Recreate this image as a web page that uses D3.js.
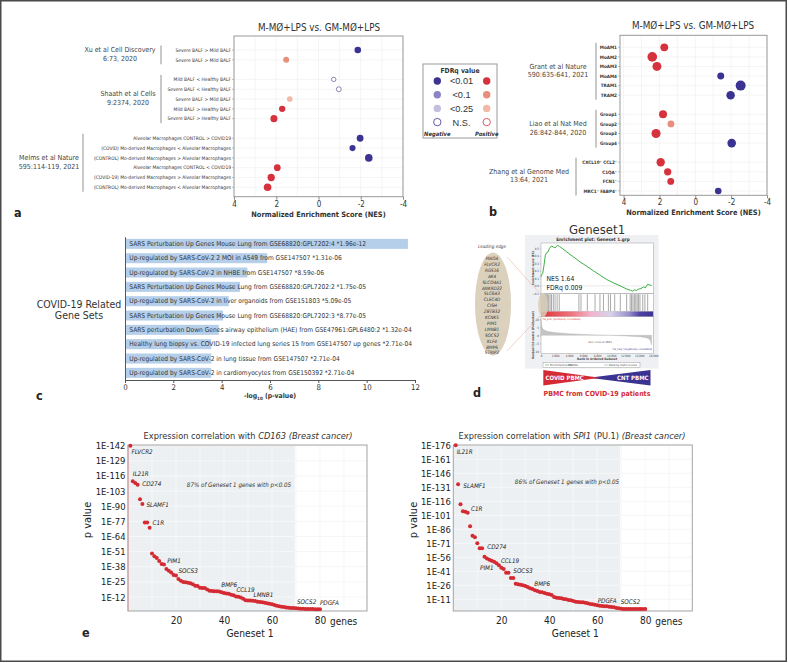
<!DOCTYPE html>
<html>
<head>
<meta charset="utf-8">
<title>COVID-19 macrophage gene sets</title>
<script src="https://cdn.jsdelivr.net/npm/d3@7"></script>
<style>
  body { margin: 0; background: #fff; }
  svg text { font-family: "DejaVu Sans Condensed", "Liberation Sans Narrow", "DejaVu Sans", sans-serif; font-stretch: condensed; }
</style>
</head>
<body>
<div id="fig"></div>
<script>
// ---------- data ----------

// a: GSEA of published COVID-19 signatures on M-MØ+LPS vs GM-MØ+LPS ("" = gap row)
var aRows = ["Severe BALF > Mild BALF", "Severe BALF > Mild BALF", "",
  "Mild BALF < Healthy BALF", "Severe BALF < Healthy BALF", "Severe BALF > Mild BALF",
  "Mild BALF > Healthy BALF", "Severe BALF > Healthy BALF", "",
  "Alveolar Macrophages CONTROL > COVID19", "(COVID) Mo-derived Macrophages < Alveolar Macrophages",
  "(CONTROL) Mo-derived Macrophages > Alveolar Macrophages", "Alveolar Macrophages CONTROL < COVID19",
  "(COVID-19) Mo-derived Macrophages > Alveolar Macrophages", "(CONTROL) Mo-derived Macrophages < Alveolar Macrophages"];
var aNES = [-1.86, 1.53, null, -0.72, -0.96, 1.36, 1.72, 2.11, null, -1.97, -1.61, -2.38, 1.95, 2.24, 2.41];
var aFDR = ["<0.01", "<0.1", null, "N.S.", "N.S.", "<0.25", "<0.01", "<0.01", null,
  "<0.01", "<0.01", "<0.01", "<0.01", "<0.01", "<0.01"];
var aStudyOf = [0, 0, null, 1, 1, 1, 1, 1, null, 2, 2, 2, 2, 2, 2];
var aStudies = [["Xu et al Cell Discovery", "6:73, 2020"], ["Shaath et al Cells", "9:2374, 2020"],
  ["Melms et al Nature", "595:114-119, 2021"]];

// b
var bRows = ["MoAM1", "MoAM2", "MoAM3", "MoAM4", "TRAM1", "TRAM2", "",
  "Group1", "Group2", "Group3", "Group4", "",
  "CXCL10\u207A CCL2\u207A", "C1QA\u207A", "FCN1\u207A", "MRC1\u207A FABP4\u207A"];
var bNES = [1.73, 2.40, 2.14, -1.42, -2.53, -1.97, null, 1.80, 1.36, 2.19, -2.03, null, 1.93, 1.54, 1.37, -1.28];
var bFDR = ["<0.01", "<0.01", "<0.01", "<0.01", "<0.01", "<0.01", null,
  "<0.01", "<0.1", "<0.01", "<0.01", null, "<0.01", "<0.01", "<0.01", "<0.01"];
var bStudyOf = [0, 0, 0, 0, 0, 0, null, 1, 1, 1, 1, null, 2, 2, 2, 2];
var bStudies = [["Grant et al Nature", "590:635-641, 2021"], ["Liao et al Nat Med", "26:842-844, 2020"],
  ["Zhang et al Genome Med", "13:64, 2021"]];

var nesTicks = [4, 2, 0, -2, -4];
var fdrLevels = ["<0.01", "<0.1", "<0.25", "N.S."];

// c: enrichment of COVID-19 related gene sets
var cSets = ["SARS Perturbation Up Genes Mouse Lung from GSE68820:GPL7202:4",
  "Up-regulated by SARS-CoV-2 2 MOI in A549 from GSE147507",
  "Up-regulated by SARS-CoV-2 in NHBE from GSE147507",
  "SARS Perturbation Up Genes Mouse Lung from GSE68820:GPL7202:2",
  "Up-regulated by SARS-CoV-2 in liver organoids from GSE151803",
  "SARS Perturbation Up Genes Mouse Lung from GSE68820:GPL7202:3",
  "SARS perturbation Down Genes airway epithelium (HAE) from GSE47961:GPL6480:2",
  "Healthy lung biopsy vs. COVID-19 infected lung series 15 from GSE147507 up genes",
  "Up-regulated by SARS-CoV-2 in lung tissue from GSE147507",
  "Up-regulated by SARS-CoV-2 in cardiomyocytes from GSE150392"];
var cPvals = [1.96e-12, 1.31e-06, 8.59e-06, 1.75e-05, 5.09e-05, 8.77e-05, 1.32e-04, 2.71e-04, 2.71e-04, 2.71e-04];
var cTicks = [0, 2, 4, 6, 8, 10, 12];

// d: GSEA of Geneset 1 in PBMC (COVID vs control)
var dRank = [0, 50, 240, 430, 620, 810, 1000, 1190, 1480, 1760, 2000, 2330, 2620, 2950, 3670, 4620, 5570,
  6520, 7480, 8430, 9380, 10330, 11290, 12240, 12710, 13050, 13290, 13570, 13900, 14240, 14620,
  14860, 15190, 15480, 15760];
var dES = [0.12, 0.142, 0.164, 0.276, 0.409, 0.444, 0.453, 0.498, 0.533, 0.52, 0.507, 0.542, 0.529, 0.507,
  0.453, 0.387, 0.32, 0.262, 0.2, 0.142, 0.084, 0.04, 0, -0.044, -0.058, -0.071, -0.053, -0.062,
  -0.044, -0.036, -0.013, -0.027, 0.022, 0.009, 0.009];
var dHits = [60, 200, 350, 500, 650, 800, 950, 1100, 1300, 1500, 1750, 2000, 2300, 2600, 5400, 5700,
  6600, 7700, 8400, 8900, 9600, 9900, 10500, 11300, 12200, 12700, 12900, 13100, 13300, 13500,
  13700, 13900, 14100, 14500, 14800, 15200];
var dMetricRank = [0, 60, 150, 300, 600, 1000, 2000, 4000, 7000, 9834, 12000, 14000, 15000, 15400, 15600, 15762];
var dMetric = [10, 7, 5, 3.8, 3, 2.4, 1.7, 1, 0.4, 0, -0.4, -0.9, -1.5, -2.3, -3.6, -6];
var dLeading = ["MAOA", "FLVCR2", "RGS16", "AK4", "SLCO4A1", "ANKRD22", "SLC6A3", "CLEC4D", "CISH",
  "ZBTB32", "KCNK5", "PIM1", "LMNB1", "SOCS2", "KLF4", "BMP6", "STRIP2"];
var dRankTicks = [0, 2000, 4000, 6000, 8000, 10000, 12000, 14000, 16000];
var dEsTicks = [-0.1, 0, 0.1, 0.2, 0.3, 0.4, 0.5];
var dMetricTicks = [10, 5, 0, -5, -10];
var dNES = 1.64, dFDR = 0.009;

// e: -log10 p of correlation of the 80 Geneset 1 genes with CD163 / SPI1 (breast cancer)
var eCD163 = [142, 111.5, 110, 108.5, 96, 92, 76, 76, 71.5, 49.5, 47, 45.5, 43, 40.3, 40, 36, 34.5, 33, 31, 30.5,
  27.5, 26, 25, 24.8, 24.3, 23.8, 23, 21.7, 21.5, 20, 19.8, 19.7, 18.5, 17.5, 17.2, 17, 17, 16.8, 16, 15.5,
  15, 14.8, 14, 13.5, 12.5, 12.2, 11.5, 10.5, 9.3, 9, 9, 8.8, 8.5, 8, 7.8, 7.5, 7, 6.6, 6.2, 5.7,
  5.2, 4.5, 4, 3.7, 3.4, 3, 2.7, 2.6, 2.5, 2.4, 2.2, 2, 1.9, 1.8, 1.8, 1.7, 1.7, 1.6, 1.6, 1.5];
var eSPI1 = [176, 134.2, 112.8, 105.3, 104.9, 103.8, 89.2, 79.2, 77.4, 71, 65.6, 65.6, 56.7, 54.6, 53.5, 52.4,
  51.3, 49.6, 47.4, 44.9, 43.5, 39.6, 39.6, 33.8, 33.8, 27.8, 27.1, 26.7, 26, 25.3, 24.2, 22.8, 22.1, 20.6,
  19.9, 18.9, 18.5, 17.8, 17.1, 16.4, 15.6, 13.5, 12.8, 12.4, 12.1, 11.4, 11, 10.3, 9.9, 9.2, 8.5, 8.1,
  7.8, 7.8, 7.4, 6.7, 6.0, 5.6, 5.2, 4.6, 4.2, 3.9, 3.5, 3.5, 3.1, 2.8, 2.4, 1.7, 1.4, 1.0, 0.7, 0.6,
  0.6, 0.6, 0.6, 0.6, 0.6, 0.6, 0.6, 0.6];
var eTicksCD163 = [142, 129, 116, 103, 90, 77, 64, 51, 38, 25, 12];
var eTicksSPI1 = [176, 161, 146, 131, 116, 101, 86, 71, 56, 41, 26, 11];
var eGeneTicks = [20, 40, 60, 80];
// labelled genes: [name, rank in geneset]
var eLabCD163 = [["FLVCR2", 1], ["IL21R", 2], ["CD274", 4], ["SLAMF1", 6], ["C1R", 9], ["PIM1", 15],
  ["SOCS3", 20], ["BMP6", 40], ["CCL19", 46], ["LMNB1", 52], ["SOCS2", 70], ["PDGFA", 80]];
var eLabSPI1 = [["IL21R", 1], ["SLAMF1", 2], ["C1R", 6], ["CD274", 12], ["CCL19", 19], ["PIM1", 13],
  ["SOCS3", 24], ["BMP6", 33], ["PDGFA", 60], ["SOCS2", 70]];
var eShare = [87, 86];

// ---------- drawing ----------
var svg = d3.select("#fig").append("svg").attr("width", 788).attr("height", 663);
svg.append("rect").attr("x", 0.75).attr("y", 0.75).attr("width", 785.5).attr("height", 660.5)
  .attr("fill", "#fff").attr("stroke", "#4a4a4a").attr("stroke-width", 1.5);

var NEG = ["#3b3391", "#8b84c3", "#c3bfdf", "#fff"];
var POS = ["#d6323d", "#e88f7b", "#f2b9a8", "#fff"];
function dotFill(nes, fdr) { var i = fdrLevels.indexOf(fdr); return nes < 0 ? NEG[i] : POS[i]; }
function dotStroke(nes, fdr) { return fdr !== "N.S." ? "none" : (nes < 0 ? "#6c6a9c" : "#d6323d"); }

function panelLetter(t, x, y) {
  svg.append("text").attr("x", x).attr("y", y).attr("font-size", 12.5).attr("font-weight", "bold")
    .attr("fill", "#222").text(t);
}

// dot plot used by a and b
function dotPanel(p) {
  var g = svg.append("g");
  var x = d3.scaleLinear().domain(p.xDomain).range([p.left, p.right]);
  var y = d3.scalePoint().domain(d3.range(p.rows.length)).range(p.rowRange);
  var r = d3.scaleLinear().domain(p.rDomain).range(p.rRange).clamp(true);
  var keep = d3.range(p.rows.length).filter(function(i) { return p.rows[i] !== ""; });

  g.append("rect").attr("x", p.left).attr("y", p.top).attr("width", p.right - p.left)
    .attr("height", p.bottom - p.top).attr("fill", "#fff");
  g.selectAll(".vg").data(d3.range(-4, 5)).enter().append("line")
    .attr("x1", function(d) { return x(d); }).attr("x2", function(d) { return x(d); })
    .attr("y1", p.top).attr("y2", p.bottom).attr("stroke", "#eeeeee").attr("stroke-width", 0.6);
  g.selectAll(".hg").data(keep).enter().append("line")
    .attr("x1", p.left).attr("x2", p.right)
    .attr("y1", function(d) { return y(d); }).attr("y2", function(d) { return y(d); })
    .attr("stroke", "#eeeeee").attr("stroke-width", 0.6);
  g.append("rect").attr("x", p.left).attr("y", p.top).attr("width", p.right - p.left)
    .attr("height", p.bottom - p.top).attr("fill", "none").attr("stroke", "#999").attr("stroke-width", 1);

  var ax = g.append("g").attr("transform", "translate(0," + p.bottom + ")")
    .call(d3.axisBottom(x).tickValues(nesTicks).tickSize(3).tickPadding(1.5)
      .tickFormat(function(d) { return String(d); }));
  ax.select(".domain").remove();
  ax.selectAll("line").attr("stroke", "#888");
  ax.selectAll("text").attr("font-size", 8).attr("fill", "#333");
  g.append("text").attr("x", (p.left + p.right) / 2).attr("y", p.bottom + 20)
    .attr("text-anchor", "middle").attr("font-size", 7.4).attr("font-weight", "bold").attr("fill", "#333")
    .text("Normalized Enrichment Score (NES)");
  g.append("text").attr("x", p.titleX).attr("y", p.titleY).attr("text-anchor", "middle")
    .attr("font-size", 9.8).attr("fill", "#333").text("M-M\u00D8+LPS vs. GM-M\u00D8+LPS");

  // row labels
  g.selectAll(".rl").data(keep).enter().append("text")
    .attr("x", p.left - 3).attr("y", function(d) { return y(d) + 1.7; })
    .attr("text-anchor", "end").attr("font-size", p.labelSize).attr("font-weight", p.labelWeight)
    .attr("fill", "#333").text(function(d) { return p.rows[d]; });
  g.selectAll(".rt").data(keep).enter().append("line")
    .attr("x1", p.left - 2).attr("x2", p.left)
    .attr("y1", function(d) { return y(d); }).attr("y2", function(d) { return y(d); })
    .attr("stroke", "#999").attr("stroke-width", 0.6);

  // dots
  g.selectAll(".dot").data(keep).enter().append("circle")
    .attr("cx", function(d) { return x(p.nes[d]); }).attr("cy", function(d) { return y(d); })
    .attr("r", function(d) { return r(Math.abs(p.nes[d])); })
    .attr("fill", function(d) { return dotFill(p.nes[d], p.fdr[d]); })
    .attr("stroke", function(d) { return dotStroke(p.nes[d], p.fdr[d]); })
    .attr("stroke-width", 0.8);

  // study brackets
  p.studies.forEach(function(s, si) {
    var rows = keep.filter(function(i) { return p.studyOf[i] === si; });
    var y0 = y(rows[0]), y1 = y(rows[rows.length - 1]), mid = (y0 + y1) / 2;
    var lay = p.studyPos[si];
    g.append("line").attr("x1", lay.bx).attr("x2", lay.bx).attr("y1", y0 - 4.5).attr("y2", y1 + 4.5)
      .attr("stroke", "#777").attr("stroke-width", 0.8);
    var t = g.append("text").attr("text-anchor", "middle").attr("font-size", 7).attr("fill", "#444");
    t.append("tspan").attr("x", lay.cx).attr("y", mid - 2.7).text(s[0]);
    t.append("tspan").attr("x", lay.cx).attr("y", mid + 5.8).text(s[1]);
  });
}

dotPanel({ rows: aRows, nes: aNES, fdr: aFDR, studyOf: aStudyOf, studies: aStudies,
  studyPos: [{ cx: 120, bx: 161 }, { cx: 128, bx: 161 }, { cx: 49, bx: 83 }],
  left: 234, right: 403, top: 36, bottom: 196.7, rowRange: [50, 187.3], xDomain: [4, -4],
  rDomain: [0.7, 2.4], rRange: [2.2, 3.8], labelSize: 4.9, labelWeight: "normal", titleX: 319, titleY: 31 });
dotPanel({ rows: bRows, nes: bNES, fdr: bFDR, studyOf: bStudyOf, studies: bStudies,
  studyPos: [{ cx: 558, bx: 596 }, { cx: 558, bx: 596 }, { cx: 529, bx: 576 }],
  left: 620, right: 767, top: 35.3, bottom: 195.3, rowRange: [47.3, 191], xDomain: [4.2, -4],
  rDomain: [1.28, 2.53], rRange: [3.3, 5], labelSize: 4.6, labelWeight: "bold", titleX: 693, titleY: 29 });
panelLetter("a", 14, 217);
panelLetter("b", 489, 216);

// FDR legend
var leg = svg.append("g");
leg.append("rect").attr("x", 423).attr("y", 64).attr("width", 74).attr("height", 74)
  .attr("fill", "#fff").attr("stroke", "#999").attr("stroke-width", 1);
leg.append("text").attr("x", 460).attr("y", 73).attr("text-anchor", "middle").attr("font-size", 6.8)
  .attr("font-weight", "bold").attr("fill", "#333").text("FDRq value");
fdrLevels.forEach(function(lv, i) {
  var cy = 81 + i * 13.7;
  leg.append("circle").attr("cx", 437.3).attr("cy", cy).attr("r", 3.7)
    .attr("fill", dotFill(-1, lv)).attr("stroke", lv === "N.S." ? "#3b3391" : "none").attr("stroke-width", 0.8);
  leg.append("circle").attr("cx", 486.7).attr("cy", cy).attr("r", 3.7)
    .attr("fill", dotFill(1, lv)).attr("stroke", lv === "N.S." ? "#d6323d" : "none").attr("stroke-width", 0.8);
  leg.append("text").attr("x", 461.5).attr("y", cy + 3.4).attr("text-anchor", "middle")
    .style("font-family", "'Liberation Sans', Arial, sans-serif").attr("font-size", 9.2).attr("fill", "#333").text(lv);
});
[["Negative", 437.3], ["Positive", 486.7]].forEach(function(n) {
  leg.append("text").attr("x", n[1]).attr("y", 135.5).attr("text-anchor", "middle").attr("font-size", 5.8)
    .attr("font-weight", "bold").attr("font-style", "italic").attr("fill", "#333").text(n[0]);
});

// ---------- c: bar chart ----------
function pFmt(p) {
  var s = p.toExponential(2).split("e");
  var ex = +s[1];
  return s[0] + "e" + (ex < 0 ? "-" : "+") + d3.format("02d")(Math.abs(ex));
}
var gc = svg.append("g");
var cx = d3.scaleLinear().domain([0, 12]).range([125, 415]);
var cy = d3.scaleBand().domain(d3.range(cSets.length)).range([236.7, 380]).paddingInner(0.3).paddingOuter(0.15);
gc.selectAll(".bar").data(cPvals).enter().append("rect")
  .attr("x", cx(0)).attr("y", function(d, i) { return cy(i); })
  .attr("width", function(d) { return cx(-Math.log10(d)) - cx(0); })
  .attr("height", cy.bandwidth()).attr("fill", "#b5cfea");
gc.selectAll(".bl").data(cPvals).enter().append("text")
  .attr("x", cx(0) + 4.3).attr("y", function(d, i) { return cy(i) + cy.bandwidth() / 2 + 2.3; })
  .attr("font-size", 6.6).attr("fill", "#333")
  .text(function(d, i) { return cSets[i] + "  *" + pFmt(d); });
var cax = gc.append("g").attr("transform", "translate(0,380)")
  .call(d3.axisBottom(cx).tickValues(cTicks).tickSize(3).tickPadding(1.5));
cax.select(".domain").attr("stroke", "#555");
cax.selectAll("line").attr("stroke", "#555");
cax.selectAll("text").attr("font-size", 7.8).attr("fill", "#333");
var cay = gc.append("g").attr("transform", "translate(125,0)")
  .call(d3.axisLeft(cy).tickValues([]).tickSizeOuter(0));
cay.select(".domain").attr("stroke", "#555");
var ct = gc.append("text").attr("x", cx(6)).attr("y", 398).attr("text-anchor", "middle")
  .attr("font-size", 6.8).attr("font-weight", "bold").attr("fill", "#333");
ct.append("tspan").text("-log");
ct.append("tspan").attr("font-size", 4.5).attr("dy", 1.8).text("10");
ct.append("tspan").attr("dy", -1.8).text(" (p-value)");
var cg = gc.append("text").attr("text-anchor", "middle").attr("font-size", 10.5).attr("fill", "#333");
cg.append("tspan").attr("x", 79).attr("y", 308).text("COVID-19 Related");
cg.append("tspan").attr("x", 79).attr("y", 318.5).text("Gene Sets");
panelLetter("c", 36, 400);

// ---------- d: GSEA enrichment plot ----------
var gd = svg.append("g");
gd.append("text").attr("x", 597).attr("y", 233.5).attr("text-anchor", "middle").attr("font-size", 13)
  .attr("fill", "#333").text("Geneset1");
gd.append("rect").attr("x", 525).attr("y", 235).attr("width", 133.5).attr("height", 133.5).attr("fill", "#eef0f3");
gd.append("text").attr("x", 593).attr("y", 241).attr("text-anchor", "middle").attr("font-size", 4.6)
  .attr("font-weight", "bold").attr("fill", "#333").text("Enrichment plot: Geneset 1.grp");

var gx = d3.scaleLinear().domain([0, 16000]).range([541, 653.3]);
var gy = d3.scaleLinear().domain([-0.105, 0.573]).range([293.7, 243]);
var my = d3.scaleLinear().domain([-11.5, 11]).range([353.7, 317.7]);

[[243, 293.7], [293.7, 311.5], [316.5, 353.7]].forEach(function(b) {
  gd.append("rect").attr("x", 541).attr("y", b[0]).attr("width", 112.3).attr("height", b[1] - b[0])
    .attr("fill", "#fff").attr("stroke", "#8a8a8a").attr("stroke-width", 0.4);
});
var grad = svg.append("defs").append("linearGradient").attr("id", "rankbar");
[["0", "#dd3038"], ["0.3", "#ef7f87"], ["0.45", "#f2b4cf"], ["0.62", "#d8d2ea"], ["0.78", "#9990cc"], ["0.88", "#4d43a3"], ["1", "#3b3391"]]
  .forEach(function(s) { grad.append("stop").attr("offset", s[0]).attr("stop-color", s[1]); });
gd.append("rect").attr("x", 541).attr("y", 311.5).attr("width", 112.3).attr("height", 5).attr("fill", "url(#rankbar)");

// hits
gd.selectAll(".hit").data(dHits).enter().append("line")
  .attr("x1", function(d) { return gx(d); }).attr("x2", function(d) { return gx(d); })
  .attr("y1", 294.2).attr("y2", 311).attr("stroke", "#555").attr("stroke-width", 0.5);
// leading edge highlight on hits
gd.append("ellipse").attr("cx", 543).attr("cy", 305).attr("rx", 5).attr("ry", 12)
  .attr("fill", "#d9cfb8").attr("opacity", 0.85);

// ES curve
gd.append("line").attr("x1", 541).attr("x2", 653.3).attr("y1", gy(0)).attr("y2", gy(0))
  .attr("stroke", "#bbb").attr("stroke-width", 0.3);
gd.append("path").datum(d3.range(dRank.length))
  .attr("d", d3.line().x(function(i) { return gx(dRank[i]); }).y(function(i) { return gy(dES[i]); }))
  .attr("fill", "none").attr("stroke", "#3fae45").attr("stroke-width", 1);
var nt = gd.append("text").attr("font-size", 6.8).attr("fill", "#222");
nt.append("tspan").attr("x", 546.5).attr("y", 281).text("NES   " + dNES.toFixed(2));
nt.append("tspan").attr("x", 546.5).attr("y", 289.5).text("FDRq  " + dFDR.toFixed(3));

// ranked metric
gd.append("path").datum(d3.range(dMetricRank.length))
  .attr("d", d3.area().x(function(i) { return gx(dMetricRank[i]); }).y0(my(0))
    .y1(function(i) { return my(dMetric[i]); }))
  .attr("fill", "#c4c4c4").attr("stroke", "#aaa").attr("stroke-width", 0.3);
gd.append("text").attr("x", 542).attr("y", 319.5).attr("font-size", 2.8).attr("fill", "#e04040")
  .text("'na_pos' (positively correlated)");
gd.append("text").attr("x", 600).attr("y", 343).attr("text-anchor", "middle").attr("font-size", 2.8)
  .attr("fill", "#666").text("Zero cross at 9834");
gd.append("text").attr("x", 632).attr("y", 350).attr("text-anchor", "middle").attr("font-size", 2.8)
  .attr("fill", "#4a40a0").text("'na_neg' (negatively correlated)");

function tinyAxis(sel) {
  sel.select(".domain").remove();
  sel.selectAll("line").attr("stroke", "#777").attr("stroke-width", 0.3);
  sel.selectAll("text").attr("font-size", 3).attr("fill", "#444");
}
gd.append("g").attr("transform", "translate(541,0)")
  .call(d3.axisLeft(gy).tickValues(dEsTicks).tickSize(1).tickPadding(1).tickFormat(d3.format(".1f"))).call(tinyAxis);
gd.append("g").attr("transform", "translate(541,0)")
  .call(d3.axisLeft(my).tickValues(dMetricTicks).tickSize(1).tickPadding(1)).call(tinyAxis);
gd.append("g").attr("transform", "translate(0,353.7)")
  .call(d3.axisBottom(gx).tickValues(dRankTicks).tickSize(1).tickPadding(0.5).tickFormat(d3.format(","))).call(tinyAxis);
gd.append("text").attr("x", 597).attr("y", 360).attr("text-anchor", "middle").attr("font-size", 3.2)
  .attr("font-weight", "bold").attr("fill", "#444").text("Rank in Ordered Dataset");
gd.append("text").attr("transform", "translate(533.5,268) rotate(-90)").attr("text-anchor", "middle")
  .attr("font-size", 3).attr("font-weight", "bold").attr("fill", "#444").text("Enrichment score (ES)");
gd.append("text").attr("transform", "translate(533.5,335) rotate(-90)").attr("text-anchor", "middle")
  .attr("font-size", 3).attr("font-weight", "bold").attr("fill", "#444").text("Ranked list metric (PreRanked)");
// legend of the enrichment plot
gd.append("rect").attr("x", 543).attr("y", 362.5).attr("width", 97).attr("height", 5)
  .attr("fill", "#fff").attr("stroke", "#888").attr("stroke-width", 0.4);
[["Enrichment profile", 545, "#3fae45"], ["Hits", 568, "#444"], ["Ranking metric scores", 604, "#aaa"]]
  .forEach(function(l) {
    gd.append("line").attr("x1", l[1]).attr("x2", l[1] + 4).attr("y1", 365).attr("y2", 365)
      .attr("stroke", l[2]).attr("stroke-width", 0.6);
    gd.append("text").attr("x", l[1] + 5).attr("y", 366).attr("font-size", 2.8).attr("fill", "#444").text(l[0]);
  });

// leading edge ellipse
gd.append("line").attr("x1", 507).attr("y1", 257).attr("x2", 540).attr("y2", 293.5)
  .attr("stroke", "#e9b7a2").attr("stroke-width", 0.6);
gd.append("line").attr("x1", 507).attr("y1", 351).attr("x2", 540).attr("y2", 316)
  .attr("stroke", "#e9b7a2").attr("stroke-width", 0.6);
gd.append("ellipse").attr("cx", 493).attr("cy", 304).attr("rx", 18).attr("ry", 51.5).attr("fill", "#dbd1bd");
gd.append("text").attr("x", 492).attr("y", 248).attr("text-anchor", "middle").attr("font-size", 4.6)
  .attr("font-style", "italic").attr("fill", "#444").text("Leading edge");
gd.selectAll(".le").data(dLeading).enter().append("text")
  .attr("x", 492).attr("y", function(d, i) { return 260 + i * 5.9; }).attr("text-anchor", "middle")
  .attr("font-size", 4.6).attr("font-style", "italic").attr("fill", "#333").text(function(d) { return d; });

// COVID vs control wedges
gd.append("polygon").attr("points", "650.5,370 650.5,385.5 589,377.7").attr("fill", "#3b3391");
gd.append("polygon").attr("points", "543.3,370 543.3,385.5 600,377.7").attr("fill", "#d42a35");
gd.append("text").attr("x", 545.5).attr("y", 380.2).attr("font-size", 6).attr("font-weight", "bold")
  .attr("fill", "#fff").text("COVID PBMC");
gd.append("text").attr("x", 648.5).attr("y", 380.2).attr("text-anchor", "end").attr("font-size", 6)
  .attr("font-weight", "bold").attr("fill", "#fff").text("CNT PBMC");
gd.append("text").attr("x", 597).attr("y", 396).attr("text-anchor", "middle").attr("font-size", 7)
  .attr("font-weight", "bold").attr("fill", "#d42a35").text("PBMC from COVID-19 patients");
panelLetter("d", 473, 397);

// ---------- e: correlation scatter plots ----------
function corrPanel(p) {
  var g = svg.append("g");
  var x = d3.scaleLinear().domain([0, 99.6]).range([p.left, p.left + 239]);
  var y = d3.scaleLinear().domain(p.yDomain).range([611, 445]);
  var cut = x(69.5);
  g.append("rect").attr("x", p.left).attr("y", 445).attr("width", 239).attr("height", 166).attr("fill", "#fff");
  g.append("rect").attr("x", p.left).attr("y", 445).attr("width", cut - p.left).attr("height", 166).attr("fill", "#edf0f2");
  p.ticks.forEach(function(t) {
    g.append("line").attr("x1", p.left).attr("x2", cut).attr("y1", y(t)).attr("y2", y(t)).attr("stroke", "#fbfcfc").attr("stroke-width", 0.6);
    g.append("line").attr("x1", cut).attr("x2", p.left + 239).attr("y1", y(t)).attr("y2", y(t)).attr("stroke", "#f0f0f0").attr("stroke-width", 0.6);
  });
  d3.range(10, 100, 10).forEach(function(t) {
    g.append("line").attr("x1", x(t)).attr("x2", x(t)).attr("y1", 445).attr("y2", 611)
      .attr("stroke", t < 69.5 ? "#fbfcfc" : "#f0f0f0").attr("stroke-width", 0.6);
  });
  g.append("rect").attr("x", p.left).attr("y", 445).attr("width", 239).attr("height", 166)
    .attr("fill", "none").attr("stroke", "#a3a3a3").attr("stroke-width", 1);
  if (p.redEdge) {
    g.append("line").attr("x1", p.left).attr("x2", p.left).attr("y1", 445).attr("y2", 611)
      .attr("stroke", "#e39a9a").attr("stroke-width", 1);
  }

  var ay = g.append("g").attr("transform", "translate(" + p.left + ",0)")
    .call(d3.axisLeft(y).tickValues(p.ticks).tickSize(0).tickPadding(2.5)
      .tickFormat(function(d) { return "1E-" + d; }));
  ay.select(".domain").remove();
  ay.selectAll("text").attr("font-size", 9.4).attr("fill", "#1a1a1a");
  var axx = g.append("g").attr("transform", "translate(0,611)")
    .call(d3.axisBottom(x).tickValues(eGeneTicks).tickSize(0).tickPadding(6));
  axx.select(".domain").remove();
  axx.selectAll("text").attr("font-size", 10).attr("fill", "#222");
  g.append("text").attr("x", x(80) + 10).attr("y", 624.7).attr("font-size", 10).attr("fill", "#222").text("genes");
  g.append("text").attr("x", p.left + 122).attr("y", 637).attr("text-anchor", "middle").attr("font-size", 10.2)
    .attr("fill", "#222").text("Geneset 1");
  g.append("text").attr("transform", "translate(" + (p.left - 40.5) + ",520) rotate(-90)").attr("dy", "0.35em")
    .attr("text-anchor", "middle").attr("font-size", 11).attr("fill", "#222").text("p value");

  var tt = g.append("text").attr("x", p.titleX).attr("y", 439).attr("text-anchor", "middle")
    .attr("font-size", 9.2).attr("fill", "#333");
  tt.append("tspan").text("Expression correlation with ");
  tt.append("tspan").attr("font-style", "italic").text(p.gene);
  if (p.alias) tt.append("tspan").text(" " + p.alias);
  tt.append("tspan").attr("font-style", "italic").text(" (Breast cancer)");
  g.append("text").attr("x", p.noteX).attr("y", p.noteY).attr("text-anchor", "middle").attr("font-size", 6.2)
    .attr("font-style", "italic").attr("fill", "#333").text(p.share + "% of Geneset 1 genes with p<0.05");

  g.selectAll(".pt").data(p.values).enter().append("circle")
    .attr("cx", function(d, i) { return x(i + 1); }).attr("cy", function(d) { return y(d); })
    .attr("r", 2).attr("fill", "#d42a32");

  g.selectAll(".gl").data(p.labels).enter().append("text")
    .attr("x", function(d, i) { return x(d[1]) + p.offsets[i][0]; })
    .attr("y", function(d, i) { return y(p.values[d[1] - 1]) + p.offsets[i][1]; })
    .attr("font-size", 6.3).attr("font-style", "italic").attr("fill", "#222")
    .text(function(d) { return d[0]; });
}

corrPanel({ left: 128, yDomain: [0, 142.6], ticks: eTicksCD163, values: eCD163, labels: eLabCD163,
  offsets: [[1, 8.7], [0, -4.8], [4.6, 1.7], [4, 2.6], [3, -3], [3.3, -1.2], [2.5, -2.2], [-2.7, -5.7],
    [-2, -4.6], [0.8, -3.5], [1, -4.5], [0, -4.5]],
  gene: "CD163", alias: "", share: eShare[0], titleX: 248, noteX: 239, noteY: 487, redEdge: true });
corrPanel({ left: 453.3, yDomain: [-1.5, 176.3], ticks: eTicksSPI1, values: eSPI1, labels: eLabSPI1,
  offsets: [[1, 8.7], [5.2, 3.2], [3.3, -1.2], [5.2, 1.1], [2, -2.3], [-4.5, 13.8], [2.4, -5.5], [1.8, -2.5],
    [0.4, -2.3], [-0.6, -4.2]],
  gene: "SPI1", alias: "(PU.1)", share: eShare[1], titleX: 572, noteX: 567, noteY: 483.5, redEdge: false });
panelLetter("e", 82, 637);
</script>
</body>
</html>
